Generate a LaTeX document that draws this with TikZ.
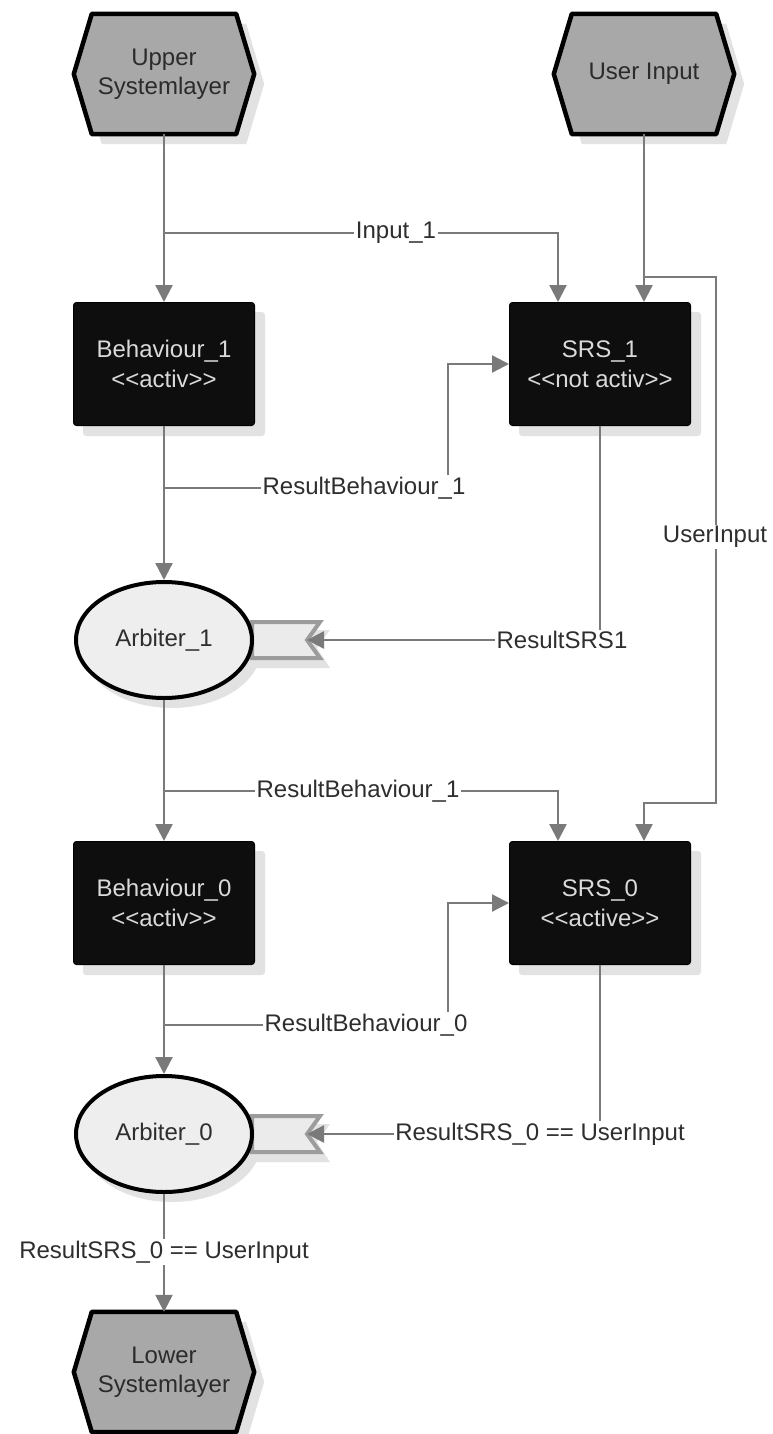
\documentclass[tikz,border=0pt]{standalone}
\usepackage{fontspec}
\setmainfont{Liberation Sans}
\usetikzlibrary{arrows.meta,shapes.geometric,backgrounds}

\definecolor{linegray}{HTML}{7A7A7A}
\definecolor{hexfill}{HTML}{A8A8A8}
\definecolor{hextext}{HTML}{2B2B2B}
\definecolor{boxfill}{HTML}{0E0E0E}
\definecolor{boxtext}{HTML}{DADADA}
\definecolor{arbfill}{HTML}{EEEEEE}
\definecolor{portfill}{HTML}{EBEBEB}
\definecolor{portline}{HTML}{9C9C9C}
\definecolor{shadowgray}{HTML}{E2E2E2}
\definecolor{labeltext}{HTML}{2E2E2E}

% stereotype brackets, kept apart so they do not turn into guillemets
\newcommand\dlt{<\kern0pt<}
\newcommand\dgt{>\kern0pt>}

\tikzset{
  conn/.style={draw=linegray, line width=2.4pt},
  arr/.style={-{Triangle[width=17pt,length=17pt]}},
  hexnode/.style={minimum width=180pt, minimum height=120pt, inner sep=0pt, align=center, text=hextext},
  hexline/.style={fill=hexfill, draw=black, line width=4.5pt, line join=round},
  boxnode/.style={draw=black, fill=boxfill, rounded corners=3pt, line width=1pt,
    minimum width=181pt, minimum height=123pt, align=center, text=boxtext},
  arbnode/.style={ellipse, draw=black, line width=4pt, fill=arbfill,
    minimum width=176pt, minimum height=116pt, inner sep=0pt, text=labeltext},
  portline/.style={fill=portfill, draw=portline, line width=4pt, line join=miter},
  shade/.style={fill=shadowgray},
  lbl/.style={fill=white, inner sep=1.5pt, text=labeltext},
}

\begin{document}
\begin{tikzpicture}[x=1pt, y=-1pt, every node/.style={font=\fontsize{24}{29.5}\selectfont}]
\useasboundingbox (0,0) rectangle (772,1434);

% system layers
\node[hexnode] (up) at (164,74)   {Upper\\Systemlayer};
\node[hexnode] (ui) at (644,74)   {User Input};
\node[hexnode] (lo) at (164,1372) {Lower\\Systemlayer};

% behaviours and SRS blocks
\node[boxnode] (b1) at (164,364) {Behaviour\_1\\\dlt activ\dgt};
\node[boxnode] (s1) at (600,364) {SRS\_1\\\dlt not activ\dgt};
\node[arbnode] (a1) at (164,640) {Arbiter\_1};
\node[boxnode] (b0) at (164,903) {Behaviour\_0\\\dlt activ\dgt};
\node[boxnode] (s0) at (600,903) {SRS\_0\\\dlt active\dgt};
\node[arbnode] (a0) at (164,1134) {Arbiter\_0};

% arbiter input ports (notch points)
\coordinate (p1) at (307,640);
\coordinate (p0) at (307,1134);

\begin{pgfonlayer}{background}
  % shadows
  \foreach \n in {up,ui,lo} {
    \fill[shade] ([shift={(10,10)}]\n.west) -- ([shift={(28,10)}]\n.north west)
      -- ([shift={(-8,10)}]\n.north east) -- ([shift={(10,10)}]\n.east)
      -- ([shift={(-8,10)}]\n.south east) -- ([shift={(28,10)}]\n.south west) -- cycle;
  }
  \foreach \n in {b1,s1,b0,s0} {
    \fill[shade, rounded corners=3pt] ([shift={(10,10)}]\n.north west) rectangle ([shift={(10,10)}]\n.south east);
  }
  \foreach \n in {a1,a0} {
    \fill[shade] ([shift={(8,9)}]\n.center) ellipse [x radius=89, y radius=59];
  }
  \foreach \p in {p1,p0} {
    \fill[shade] ([shift={(-55,-10)}]\p) -- ([shift={(23,-10)}]\p) -- ([shift={(10,8)}]\p)
      -- ([shift={(23,28)}]\p) -- ([shift={(-55,28)}]\p) -- cycle;
  }
  % hexagon outlines
  \foreach \n in {up,ui,lo} {
    \path[hexline] (\n.west) -- ([xshift=18pt]\n.north west) -- ([xshift=-18pt]\n.north east)
      -- (\n.east) -- ([xshift=-18pt]\n.south east) -- ([xshift=18pt]\n.south west) -- cycle;
  }
  % ports
  \foreach \p in {p1,p0} {
    \path[portline] ([shift={(-55,-18)}]\p) -- ([shift={(13,-18)}]\p) -- (\p)
      -- ([shift={(13,18)}]\p) -- ([shift={(-55,18)}]\p) -- cycle;
  }
\end{pgfonlayer}

% branch points
\coordinate (j1) at (164,233);
\coordinate (j2) at (644,277);
\coordinate (j3) at (164,488);
\coordinate (j4) at (164,791);
\coordinate (j5) at (164,1025);

% connectors
\draw[conn,arr] (up) -- (b1);
\draw[conn,arr] (j1) -| ([xshift=-42pt]s1.north);
\draw[conn,arr] (ui) -- ([xshift=44pt]s1.north);
\draw[conn,arr] (j2) -| (716,803) -| ([xshift=44pt]s0.north);
\draw[conn,arr] (b1) -- (a1);
\draw[conn,arr] (j3) -- (448,488) |- (s1.west);
\draw[conn,arr] (s1) |- (p1);
\draw[conn,arr] (a1) -- (b0);
\draw[conn,arr] (j4) -| ([xshift=-42pt]s0.north);
\draw[conn,arr] (b0) -- (a0);
\draw[conn,arr] (j5) -- (448,1025) |- (s0.west);
\draw[conn,arr] (s0) |- (p0);
\draw[conn,arr] (a0) -- (lo);

% connector labels
\node[lbl] (l1) at (396,233)  {Input\_1};
\node[lbl] (l2) at (364,488)  {ResultBehaviour\_1};
\node[lbl] (l3) at (715,537)  {UserInput};
\node[lbl] (l4) at (562,640)  {ResultSRS1};
\node[lbl] (l5) at (358,791)  {ResultBehaviour\_1};
\node[lbl] (l6) at (366,1025) {ResultBehaviour\_0};
\node[lbl] (l7) at (540,1134) {ResultSRS\_0 == UserInput};
\node[lbl] (l8) at (164,1252) {ResultSRS\_0 == UserInput};
\end{tikzpicture}
\end{document}
